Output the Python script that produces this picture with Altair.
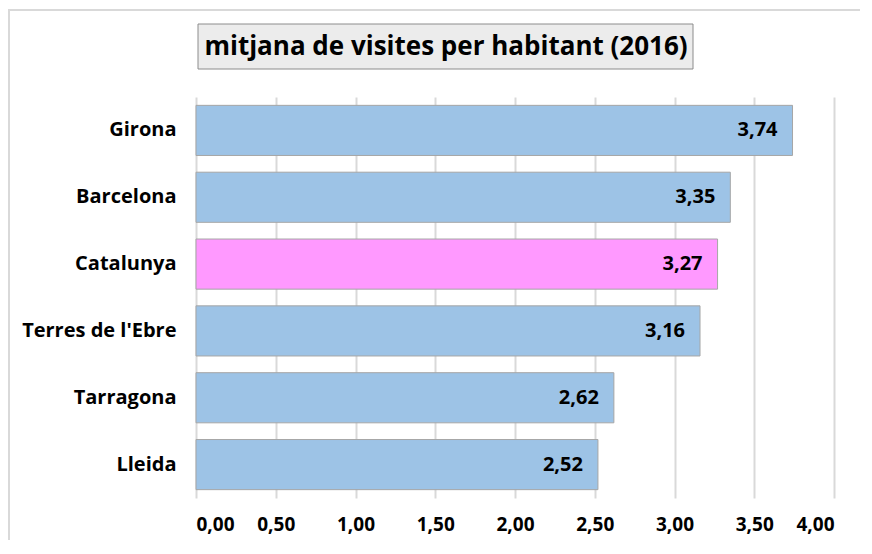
import altair as alt
import pandas as pd

regions = ["Girona", "Barcelona", "Catalunya", "Terres de l'Ebre", "Tarragona", "Lleida"]
values = [3.74, 3.35, 3.27, 3.16, 2.62, 2.52]
labels = ["3,74", "3,35", "3,27", "3,16", "2,62", "2,52"]
highlight = ["no", "no", "yes", "no", "no", "no"]
title_text = "mitjana de visites per habitant (2016)"
x_ticks = [0, 0.5, 1, 1.5, 2, 2.5, 3, 3.5, 4]

df = pd.DataFrame({"region": regions, "value": values, "label": labels, "hl": highlight})

FONT = "Open Sans"
W, H = 638, 401
PAD_R = 26

y_enc = alt.Y("region:N", sort=regions, title=None,
              scale=alt.Scale(paddingInner=0.25, paddingOuter=0.125),
              axis=alt.Axis(labelFont=FONT, labelFontWeight="bold", labelFontSize=20,
                            labelColor="#000000", labelPadding=20, ticks=False,
                            domain=False, grid=False))
x_enc = alt.X("value:Q", title=None,
              scale=alt.Scale(domain=[0, 4], nice=False),
              axis=alt.Axis(values=x_ticks, labelExpr="replace(format(datum.value, '.2f'), '.', ',')",
                            labelFont=FONT, labelFontWeight="bold", labelFontSize=19,
                            labelColor="#000000", labelPadding=17, ticks=False, domain=False,
                            grid=True, gridColor="#d9d9d9", gridWidth=2))

base = alt.Chart(df)

bars = base.mark_bar(stroke="#a6a6a6", strokeWidth=1).encode(
    y=y_enc, x=x_enc,
    color=alt.Color("hl:N", scale=alt.Scale(domain=["no", "yes"], range=["#9dc3e6", "#ff99ff"]), legend=None),
)

text = base.mark_text(align="right", baseline="middle", dx=-15, font=FONT,
                      fontWeight="bold", fontSize=20, color="#000000").encode(
    y=alt.Y("region:N", sort=regions), x=alt.X("value:Q"), text="label:N"
)

frame_top = alt.Chart(pd.DataFrame({"a": [0]})).mark_rule(
    stroke="#d9d9d9", strokeWidth=2
).encode(x=alt.value(-187), x2=alt.value(W + PAD_R + 20), y=alt.value(-87))

frame_left = alt.Chart(pd.DataFrame({"a": [0]})).mark_rule(
    stroke="#d9d9d9", strokeWidth=2
).encode(x=alt.value(-187), y=alt.value(-88), y2=alt.value(H + 60))

title_box = alt.Chart(pd.DataFrame({"a": [0]})).mark_rect(
    fill="#ececec", stroke="#8c8c8c", strokeWidth=1
).encode(x=alt.value(2), x2=alt.value(497), y=alt.value(-73), y2=alt.value(-28))

title = alt.Chart(pd.DataFrame({"t": [title_text]})).mark_text(
    align="center", baseline="middle", font=FONT, fontWeight="bold", fontSize=26, color="#000000"
).encode(x=alt.value(250), y=alt.value(-50), text="t:N")

chart = alt.layer(frame_top, frame_left, bars, text, title_box, title).properties(
    width=W, height=H,
    background="transparent",
    autosize=alt.AutoSizeParams(type="none"),
    padding={"left": 188, "top": 89, "right": PAD_R, "bottom": 42},
).configure_view(stroke=None)

chart.save("out.html", embed_options={"renderer": "svg", "actions": False})
